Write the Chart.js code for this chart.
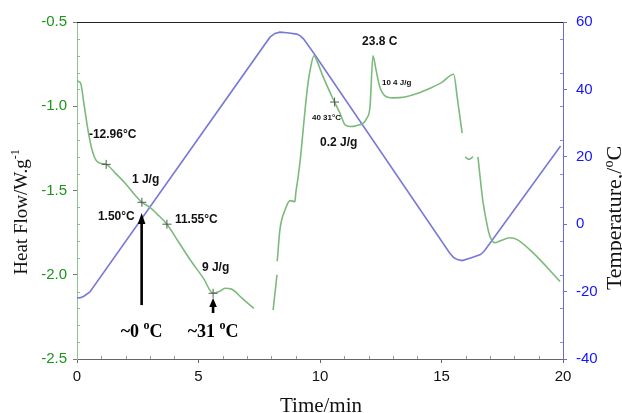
<!DOCTYPE html>
<html>
<head>
<meta charset="utf-8">
<script src="https://cdn.jsdelivr.net/npm/chart.js@4.4.0/dist/chart.umd.min.js"></script>
<style>
  body { margin: 0; background: #fff; }
  #wrap { width: 622px; height: 413px; position: relative; }
</style>
</head>
<body>
<div id="wrap"><canvas id="dsc-chart"></canvas></div>
<script>
// DSC trace - heat flow (left axis) and temperature (right axis) against time

const hfTime = [0, 0.14, 0.3, 0.45, 0.62, 0.78, 1.0, 1.2, 1.6, 2.0, 2.4, 2.67, 3.0, 3.3, 3.7, 4.2, 4.7, 5.2, 5.6, 5.85, 6.1, 6.35, 6.8, 7.28, 7.6,
  8.07, 8.23, 8.235,
  8.24, 8.35, 8.56, 8.77, 8.97, 9.0, 9.1, 9.2, 9.3, 9.4, 9.5, 9.6, 9.75, 9.9, 10.1, 10.5, 10.6, 10.82, 11.03, 11.23, 11.5, 11.93, 12.06, 12.18, 12.3, 12.45, 12.65, 13.0, 13.5, 14.0, 14.5, 15.0, 15.5, 15.65, 15.85, 15.9,
  15.97, 16.13, 16.3, 16.4,
  16.5, 16.7, 16.9, 17.0, 17.2, 17.4, 17.82, 18.1, 18.77, 19.88];
const hfValue = [-0.85, -0.86, -1.0, -1.14, -1.26, -1.32, -1.34, -1.345, -1.40, -1.46, -1.53, -1.57, -1.60, -1.64, -1.70, -1.81, -1.92, -2.02, -2.11, -2.10, -2.08, -2.085, -2.14, -2.20, null,
  -2.21, -2.00, null,
  -1.92, -1.734, -1.616, -1.56, -1.566, -1.52, -1.42, -1.30, -1.15, -1.00, -0.87, -0.78, -0.70, -0.74, -0.815, -0.945, -0.975, -1.04, -1.11, -1.12, -1.115, -1.07, -1.00, -0.70, -0.78, -0.88, -0.935, -0.95, -0.945, -0.925, -0.895, -0.86, -0.81, -0.95, -1.16, null,
  -1.30, -1.315, -1.30, null,
  -1.30, -1.56, -1.72, -1.774, -1.81, -1.80, -1.78, -1.79, -1.87, -2.04];

const tempTime = [0, 0.15, 0.3, 0.53, 7.94, 8.15, 8.35, 8.64, 9.05, 9.2, 9.32, 9.71, 15.35, 15.5, 15.65, 15.85, 16.2, 16.58, 16.7, 16.8, 19.9];
const tempValue = [-21.9, -21.8, -21.3, -20.1, 55.5, 56.6, 57.0, 56.8, 56.4, 55.8, 55.0, 51.1, -8.7, -9.9, -10.5, -10.8, -10.0, -9.1, -8.4, -7.6, 23.2];

const markTime = [1.2, 2.67, 3.7, 5.6, 10.6];
const markValue = [-1.345, -1.57, -1.70, -2.11, -0.975];

const xTicks = [0, 5, 10, 15, 20];
const hfTicks = [-2.5, -2.0, -1.5, -1.0, -0.5];
const tempTicks = [-40, -20, 0, 20, 40, 60];

// annotation text, anchored in (time, heat flow)
const noteText = ['-12.96°C', '1 J/g', '1.50°C', '11.55°C', '9 J/g', '23.8 C', '10 4 J/g', '40 31°C', '0.2 J/g'];
const noteTime = [0.49, 2.26, 0.86, 4.03, 5.14, 11.73, 12.55, 9.67, 10.0];
const noteValue = [-1.171, -1.438, -1.657, -1.675, -1.96, -0.619, -0.862, -1.07, -1.218];
const noteSize = [12, 12, 12, 12, 12, 12, 8, 8, 12];

// arrows: time, tail heat flow, tip heat flow
const arrowTime = [2.66, 5.6];
const arrowFrom = [-2.18, -2.227];
const arrowTo = [-1.634, -2.138];
const arrowLabel = ['~0', '~31'];
const arrowLabelValue = [-2.34, -2.34];

const SANS = '"Liberation Sans", Arial, sans-serif';
const SERIF = '"Liberation Serif", "Times New Roman", serif';

const hfPoints = hfTime.map((t, i) => ({ x: t, y: hfValue[i] }));
const tempPoints = tempTime.map((t, i) => ({ x: t, y: tempValue[i] }));
const markPoints = markTime.map((t, i) => ({ x: t, y: markValue[i] }));

function drawSupText(ctx, parts, x, y, align) {
  // parts: [text, size, raise, weight, family]
  let total = 0;
  parts.forEach(p => { ctx.font = p[3] + ' ' + p[1] + 'px ' + p[4]; total += ctx.measureText(p[0]).width; });
  let cx = align === 'center' ? x - total / 2 : x;
  parts.forEach(p => {
    ctx.font = p[3] + ' ' + p[1] + 'px ' + p[4];
    ctx.fillText(p[0], cx, y - p[2]);
    cx += ctx.measureText(p[0]).width;
  });
}

const extras = {
  id: 'extras',
  afterDraw(chart) {
    const { ctx, chartArea: a, scales } = chart;
    const sx = scales.x, sy = scales.y, sy1 = scales.y1;
    ctx.save();

    // top frame line
    ctx.strokeStyle = '#222';
    ctx.lineWidth = 1;
    ctx.beginPath();
    ctx.moveTo(a.left, a.top + 0.5);
    ctx.lineTo(a.right, a.top + 0.5);
    ctx.stroke();

    // minor ticks
    ctx.lineWidth = 1;
    ctx.strokeStyle = '#999';
    for (let t = 1; t < 20; t++) {
      if (t % 5 === 0) continue;
      const px = Math.round(sx.getPixelForValue(t)) + 0.5;
      ctx.beginPath(); ctx.moveTo(px, a.bottom); ctx.lineTo(px, a.bottom - 3); ctx.stroke();
    }
    ctx.strokeStyle = '#8fbf8f';
    for (let k = 1; k < 20; k++) {
      if (k % 5 === 0) continue;
      const py = Math.round(sy.getPixelForValue(-2.5 + k * 0.1)) + 0.5;
      ctx.beginPath(); ctx.moveTo(a.left, py); ctx.lineTo(a.left + 3, py); ctx.stroke();
    }
    ctx.strokeStyle = '#8f8fd8';
    for (let v = -35; v < 60; v += 10) {
      const py = Math.round(sy1.getPixelForValue(v)) + 0.5;
      ctx.beginPath(); ctx.moveTo(a.right - 3, py); ctx.lineTo(a.right, py); ctx.stroke();
    }

    // arrows
    ctx.fillStyle = '#000';
    ctx.strokeStyle = '#000';
    arrowTime.forEach((t, i) => {
      const px = sx.getPixelForValue(t);
      const y0 = sy.getPixelForValue(arrowFrom[i]);
      const y1 = sy.getPixelForValue(arrowTo[i]);
      const head = Math.min(11, (y0 - y1) * 0.6);
      ctx.lineWidth = 2.6;
      ctx.beginPath(); ctx.moveTo(px, y0); ctx.lineTo(px, y1 + head - 1); ctx.stroke();
      ctx.beginPath();
      ctx.moveTo(px, y1);
      ctx.lineTo(px - 3.8, y1 + head);
      ctx.lineTo(px + 3.8, y1 + head);
      ctx.closePath();
      ctx.fill();
      ctx.textBaseline = 'middle';
      drawSupText(ctx, [[arrowLabel[i] + ' ', 18, 0, 'bold', SERIF], ['o', 12, 6, 'bold', SERIF], ['C', 18, 0, 'bold', SERIF]],
        px, sy.getPixelForValue(arrowLabelValue[i]), 'center');
    });

    // annotation text
    ctx.textAlign = 'left';
    ctx.textBaseline = 'middle';
    ctx.fillStyle = '#111';
    noteText.forEach((s, i) => {
      ctx.font = 'bold ' + noteSize[i] + 'px ' + SANS;
      ctx.fillText(s, sx.getPixelForValue(noteTime[i]), sy.getPixelForValue(noteValue[i]));
    });

    // axis titles
    ctx.fillStyle = '#111';
    ctx.textBaseline = 'alphabetic';
    ctx.textAlign = 'left';
    drawSupText(ctx, [['Time/min', 21, 0, '', SERIF]], 321, 412, 'center');

    ctx.save();
    ctx.translate(27, 212);
    ctx.rotate(-Math.PI / 2);
    drawSupText(ctx, [['Heat Flow/W.g', 19, 0, '', SERIF], ['-1', 12, 8, '', SERIF]], 0, 0, 'center');
    ctx.restore();

    ctx.save();
    ctx.translate(621, 218);
    ctx.rotate(-Math.PI / 2);
    drawSupText(ctx, [['Temperature,/', 22, 0, '', SERIF], ['o', 14, 8, '', SERIF], ['C', 22, 0, '', SERIF]], 0, 0, 'center');
    ctx.restore();

    ctx.restore();
  }
};

new Chart(document.getElementById('dsc-chart'), {
  type: 'line',
  data: {
    datasets: [
      {
        label: 'Heat flow',
        data: hfPoints,
        yAxisID: 'y',
        borderColor: '#7cba7c',
        borderWidth: 1.6,
        pointRadius: 0,
        spanGaps: false,
        cubicInterpolationMode: 'monotone',
        order: 1
      },
      {
        label: 'Temperature',
        data: tempPoints,
        yAxisID: 'y1',
        borderColor: '#7878d8',
        borderWidth: 1.6,
        pointRadius: 0,
        tension: 0,
        order: 2
      },
      {
        label: 'Marks',
        type: 'scatter',
        data: markPoints,
        yAxisID: 'y',
        pointStyle: 'cross',
        pointRadius: 4.5,
        borderColor: '#4f5f4f',
        borderWidth: 1,
        order: 0
      }
    ]
  },
  options: {
    responsive: true,
    maintainAspectRatio: false,
    animation: false,
    events: [],
    layout: { padding: { top: 22, left: 0, right: 0, bottom: 0 } },
    plugins: { legend: { display: false }, tooltip: { enabled: false } },
    scales: {
      x: {
        type: 'linear',
        min: 0,
        max: 20,
        afterFit: s => { s.height = 54; },
        afterBuildTicks: s => { s.ticks = xTicks.map(v => ({ value: v })); },
        border: { color: '#666', width: 1 },
        grid: { drawOnChartArea: false, drawTicks: true, tickLength: 4, color: '#666' },
        ticks: { color: '#111', padding: 5, font: { family: SANS, size: 15 }, maxRotation: 0 }
      },
      y: {
        type: 'linear',
        position: 'left',
        min: -2.5,
        max: -0.5,
        afterFit: s => { s.width = 77; },
        afterBuildTicks: s => { s.ticks = hfTicks.map(v => ({ value: v })); },
        border: { color: '#8fc48f', width: 1 },
        grid: { drawOnChartArea: false, drawTicks: true, tickLength: 4, color: '#777' },
        ticks: { color: '#1a961a', padding: 6, font: { family: SANS, size: 15 }, callback: v => v.toFixed(1) }
      },
      y1: {
        type: 'linear',
        position: 'right',
        min: -40,
        max: 60,
        afterFit: s => { s.width = 59; },
        afterBuildTicks: s => { s.ticks = tempTicks.map(v => ({ value: v })); },
        border: { color: '#6b6bd8', width: 1 },
        grid: { drawOnChartArea: false, drawTicks: true, tickLength: 4, color: '#6b6bd8' },
        ticks: { color: '#1414ff', padding: 9, font: { family: SANS, size: 15 }, callback: v => String(v) }
      }
    }
  },
  plugins: [extras]
});
</script>
</body>
</html>
